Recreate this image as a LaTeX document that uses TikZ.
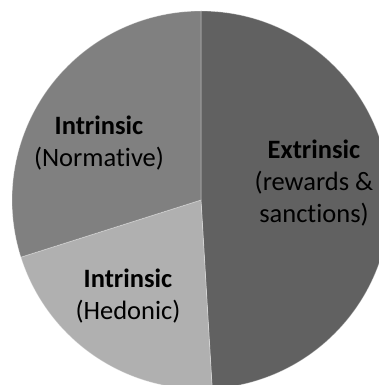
\documentclass[tikz,border=0pt]{standalone}
\usepackage{fontspec}
\setmainfont[Ligatures=NoCommon]{Carlito}

\colorlet{extrcolor}{black!62}
\colorlet{normcolor}{black!50}
\colorlet{hedocolor}{black!31}

\begin{document}
\begin{tikzpicture}[x=1pt,y=1pt]

% Define the size of the pie
\def\radius{189pt}

% Fix the page and cut off what runs over
\useasboundingbox (0,0) rectangle (379,385);
\clip (0,0) rectangle (379,385);

\coordinate (centre) at (201,185);

% Draw the slices (start angle / end angle / colour)
\foreach \a/\b/\c in {90/-86.6/extrcolor, -86.6/-162.4/hedocolor, -162.4/-270/normcolor} {
    \filldraw[fill=\c, draw=white, draw opacity=0.35, line width=0.75pt]
        (centre) -- ++(\a:\radius) arc[start angle=\a, end angle=\b, radius=\radius] -- cycle;
}

% Label the slices
\tikzset{slicelabel/.style={align=center, inner sep=0pt, font=\fontsize{26.5}{32}\selectfont}}
\node[slicelabel] (extr) at (314,202) {\textbf{Extrinsic}\\(rewards \&\\sanctions)};
\node[slicelabel] (norm) at (99,242) {\textbf{Intrinsic}\\(Normative)};
\node[slicelabel] (hedo) at (128,89) {\textbf{Intrinsic}\\(Hedonic)};

\end{tikzpicture}
\end{document}
